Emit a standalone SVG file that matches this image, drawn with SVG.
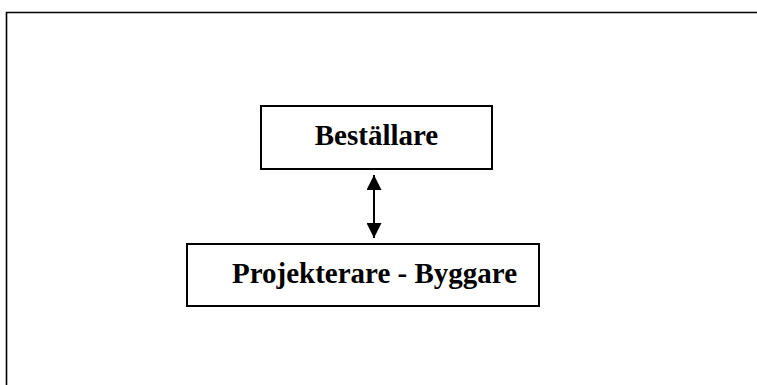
<svg xmlns="http://www.w3.org/2000/svg" width="757" height="385" viewBox="0 0 757 385">
  <style>
    .box { fill: #ffffff; stroke: #000000; stroke-width: 2; }
    .label { font-family: "Liberation Serif", "Times New Roman", serif; font-weight: bold; font-size: 29px; fill: #000000; text-anchor: middle; }
    .link { stroke: #000000; stroke-width: 2; fill: none; }
  </style>
  <defs>
    <marker id="head" viewBox="0 0 10 10" refX="10" refY="5" markerWidth="7.5" markerHeight="7.5" markerUnits="strokeWidth" orient="auto-start-reverse">
      <path d="M0,0 L10,5 L0,10 Z" fill="#000000"/>
    </marker>
  </defs>
  <rect width="757" height="385" fill="#ffffff"/>
  <!-- outer frame -->
  <path d="M6.5,400 L6.5,12.5 L760,12.5" fill="none" stroke="#000000" stroke-width="1.6"/>
  <g id="bestallare">
    <rect class="box" x="261" y="106" width="231" height="63"/>
    <text class="label" x="376.5" y="145">Beställare</text>
  </g>
  <g id="projekterare-byggare">
    <rect class="box" x="187" y="244" width="352" height="62"/>
    <text class="label" x="374.5" y="283">Projekterare - Byggare</text>
  </g>
  <g id="connectors">
    <line class="link" x1="374" y1="175" x2="374" y2="238" marker-start="url(#head)" marker-end="url(#head)"/>
  </g>
</svg>
